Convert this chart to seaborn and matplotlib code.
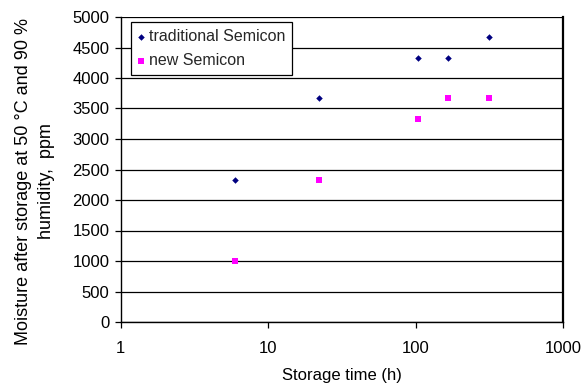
import matplotlib
matplotlib.use("Agg")
import matplotlib.pyplot as plt
import seaborn as sns
import pandas as pd
from matplotlib.ticker import FixedLocator, NullLocator, FixedFormatter

storage_time = [6, 22, 104, 165, 315]
traditional = [2333, 3667, 4333, 4333, 4667]
new = [1000, 2333, 3333, 3667, 3667]
series_names = ["traditional Semicon", "new Semicon"]
x_ticks = [1, 10, 100, 1000]
x_tick_labels = ["1", "10", "100", "1000"]
y_ticks = list(range(0, 5001, 500))

df_trad = pd.DataFrame({"time": storage_time, "moisture": traditional})
df_new = pd.DataFrame({"time": storage_time, "moisture": new})

sns.set_theme(style="white")
plt.rcParams["font.family"] = ["Liberation Sans", "DejaVu Sans"]

fig = plt.figure(figsize=(5.82, 3.83), dpi=100)
ax = fig.add_axes([120.7 / 582, 61 / 383, 442.3 / 582, 305 / 383])

sns.scatterplot(data=df_trad, x="time", y="moisture", color="#000080", marker="D",
                s=11, linewidth=0, ax=ax, zorder=3, label=series_names[0])
sns.scatterplot(data=df_new, x="time", y="moisture", color="#FF00FF", marker="s",
                s=20, linewidth=0, ax=ax, zorder=3, label=series_names[1])

ax.set_xscale("log")
ax.set_xlim(1, 1000)
ax.set_ylim(0, 5000)
ax.xaxis.set_major_locator(FixedLocator(x_ticks))
ax.xaxis.set_major_formatter(FixedFormatter(x_tick_labels))
ax.xaxis.set_minor_locator(NullLocator())
ax.set_yticks(y_ticks)
ax.set_yticklabels([str(v) for v in y_ticks])

for v in y_ticks:
    ax.axhline(v, color="black", linewidth=0.9, zorder=1)

for sp in ax.spines.values():
    sp.set_visible(True)
    sp.set_color("black")
    sp.set_linewidth(1.0)
ax.spines["top"].set_visible(False)
ax.spines["right"].set_linewidth(1.6)

ax.tick_params(axis="both", which="major", direction="out", length=4, width=0.9,
               color="black", labelsize=12, labelcolor="black", bottom=True, left=True)
ax.tick_params(axis="x", pad=10)
ax.tick_params(axis="y", pad=4)

ax.set_xlabel("Storage time (h)", fontsize=12, color="black", labelpad=8)
ax.set_ylabel("Moisture after storage at 50 °C and 90 %\nhumidity,  ppm", fontsize=13,
              color="black", linespacing=1.45)
ax.yaxis.set_label_coords(-0.148, 0.461)

handles, labels = ax.get_legend_handles_labels()
leg = ax.legend(handles, labels, loc="upper left", bbox_to_anchor=(0.023, 0.982),
                frameon=True, fancybox=False, fontsize=11.5, handletextpad=0.25,
                borderpad=0.4, labelspacing=0.6, handlelength=0.5, markerscale=1.0,
                borderaxespad=0)
leg.get_frame().set_edgecolor("black")
leg.get_frame().set_linewidth(0.9)
leg.get_frame().set_alpha(1)
leg.set_zorder(5)

fig.savefig("out.png", dpi=100)
